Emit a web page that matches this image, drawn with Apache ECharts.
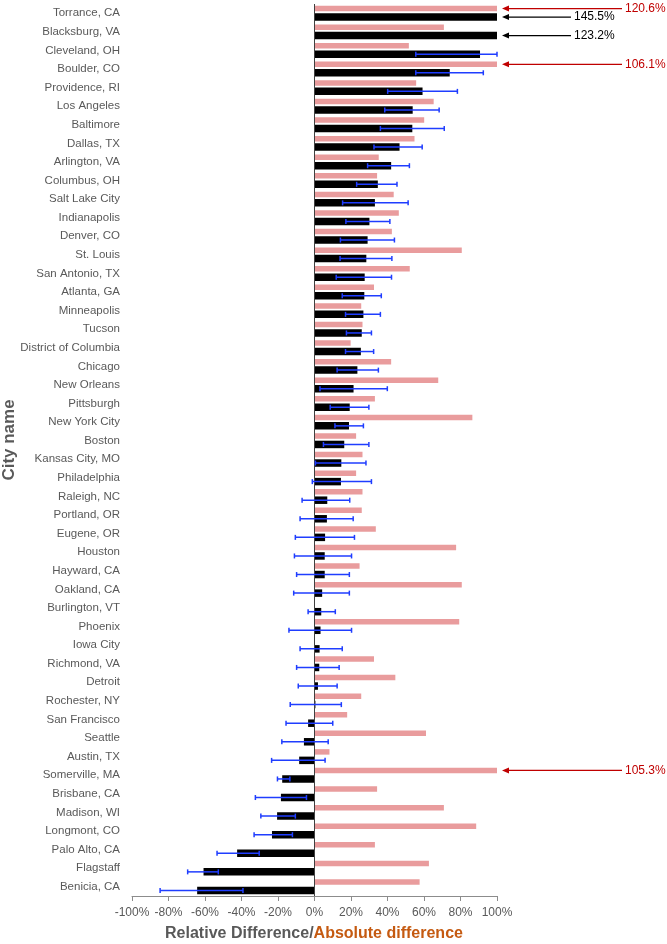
<!DOCTYPE html>
<html><head><meta charset="utf-8">
<script src="https://cdn.jsdelivr.net/npm/echarts@6.0.0/dist/echarts.min.js"></script>
<style>html,body{margin:0;padding:0;background:#fff}#c{width:667px;height:944px}</style>
</head><body><div id="c"></div>
<script>
const cities = ["Torrance, CA","Blacksburg, VA","Cleveland, OH","Boulder, CO","Providence, RI","Los Angeles","Baltimore","Dallas, TX","Arlington, VA","Columbus, OH","Salt Lake City","Indianapolis","Denver, CO","St. Louis","San Antonio, TX","Atlanta, GA","Minneapolis","Tucson","District of Columbia","Chicago","New Orleans","Pittsburgh","New York City","Boston","Kansas City, MO","Philadelphia","Raleigh, NC","Portland, OR","Eugene, OR","Houston","Hayward, CA","Oakland, CA","Burlington, VT","Phoenix","Iowa City","Richmond, VA","Detroit","Rochester, NY","San Francisco","Seattle","Austin, TX","Somerville, MA","Brisbane, CA","Madison, WI","Longmont, CO","Palo Alto, CA","Flagstaff","Benicia, CA"];
const absoluteDiff = [120.6,70.9,51.7,106.1,55.7,65.3,60.1,54.8,35.2,34.3,43.4,46.2,42.4,80.7,52.2,32.6,25.6,26.3,19.8,42.0,67.8,33.1,86.5,22.8,26.3,22.8,26.3,25.9,33.6,77.6,24.7,80.7,0,79.3,0,32.6,44.3,25.6,17.9,61.1,8.2,105.3,34.3,70.9,88.6,33.1,62.7,57.6];
const relativeDiff = [145.5,123.2,90.7,74.1,59.2,53.8,53.6,46.6,42.0,34.7,33.1,30.1,29.1,28.4,27.5,27.3,26.8,25.9,25.4,23.5,21.4,19.3,18.9,16.3,14.7,14.5,7.0,6.8,5.8,5.6,5.6,4.2,3.7,3.3,2.8,2.6,1.9,0.5,-3.5,-5.8,-8.4,-17.7,-18.4,-20.5,-23.3,-42.4,-60.8,-64.3];
const errLow = [null,null,55.5,55.5,40.1,38.5,36.1,32.6,29.1,23.1,15.4,17.2,14.2,14.0,11.9,15.2,17.0,17.5,17.0,12.4,3.0,8.6,11.2,4.9,0.5,-1.2,-6.8,-7.9,-10.5,-11.0,-9.8,-11.4,-3.5,-14.0,-7.9,-9.8,-8.9,-13.3,-15.6,-17.9,-23.5,-20.3,-32.4,-29.4,-33.1,-53.4,-69.5,-84.6];
const errHigh = [null,null,100,92.5,78.3,68.3,71.1,59.0,52.0,45.2,51.3,41.3,43.8,42.4,42.2,36.6,36.1,31.2,32.4,35.0,39.9,29.8,26.8,29.8,28.2,31.2,19.3,21.2,21.9,20.3,19.1,19.1,11.4,20.3,15.2,13.5,12.4,14.7,10.0,7.5,5.8,-13.5,-4.4,-10.5,-12.1,-30.3,-52.7,-39.2];
const xMin = -100, xMax = 100, xStep = 20;

const FONT = '"Liberation Sans", Arial, sans-serif';
const PINK_W = 5.5, BLACK_W = 7.5, GAP_PCT = 0.36;
const totalW = PINK_W * (1 + GAP_PCT) + BLACK_W;
const pinkOff = -totalW / 2 + PINK_W / 2;
const blackOff = -totalW / 2 + PINK_W * (1 + GAP_PCT) + BLACK_W / 2;

const errData = [];
cities.forEach((c, i) => { if (errLow[i] != null && errHigh[i] != null) errData.push([i, errLow[i], errHigh[i]]); });
const annData = [];
cities.forEach((c, i) => { if (absoluteDiff[i] > xMax || relativeDiff[i] > xMax) annData.push([i, absoluteDiff[i], relativeDiff[i]]); });

function arrow(x0, y, len, color, text) {
  return [
    { type: 'line', shape: { x1: x0 + 10, y1: y, x2: x0 + len, y2: y }, style: { stroke: color, lineWidth: 1.2 } },
    { type: 'polygon', shape: { points: [[x0 + 5, y], [x0 + 12, y - 3], [x0 + 12, y + 3]] }, style: { fill: color } },
    { type: 'text', x: x0 + len + 3, y: y, style: { text: text, fill: color, font: '12px ' + FONT, align: 'left', verticalAlign: 'middle' } }
  ];
}

const chart = echarts.init(document.getElementById('c'), null, { renderer: 'canvas' });
chart.setOption({
  animation: false,
  backgroundColor: '#fff',
  grid: { left: 132, right: 170, top: 4, bottom: 48, containLabel: false, outerBoundsMode: 'none' },
  xAxis: {
    type: 'value', min: xMin, max: xMax, interval: xStep,
    axisLine: { show: true, onZero: false, lineStyle: { color: '#8c8c8c', width: 1 } },
    axisTick: { show: true, length: 5, lineStyle: { color: '#8c8c8c' } },
    axisLabel: { formatter: '{value}%', color: '#595959', fontSize: 12, fontFamily: FONT, margin: 11 },
    splitLine: { show: false }
  },
  yAxis: {
    type: 'category', data: cities, inverse: true,
    axisLine: { show: false }, axisTick: { show: false },
    axisLabel: { interval: 0, color: '#595959', fontSize: 11.5, fontFamily: FONT, margin: 12 }
  },
  series: [
    {
      name: 'Absolute difference', type: 'bar', data: absoluteDiff, barWidth: PINK_W, barGap: (GAP_PCT * 100) + '%',
      itemStyle: { color: '#e99c9d' }, clip: true,
      markLine: { silent: true, symbol: 'none', label: { show: false }, animation: false,
        lineStyle: { color: '#404040', width: 1, type: 'solid' }, data: [{ xAxis: 0 }] }
    },
    {
      name: 'Relative difference', type: 'bar', data: relativeDiff, barWidth: BLACK_W, barGap: (GAP_PCT * 100) + '%',
      itemStyle: { color: '#000000' }, clip: true
    },
    {
      type: 'custom', z: 5, data: errData, encode: { x: [1, 2], y: 0 },
      renderItem: function (params, api) {
        const i = api.value(0);
        const p1 = api.coord([api.value(1), i]);
        const p2 = api.coord([api.value(2), i]);
        const y = p1[1] + blackOff;
        const st = { stroke: '#1f3dff', lineWidth: 1.5 };
        return { type: 'group', children: [
          { type: 'line', shape: { x1: p1[0], y1: y, x2: p2[0], y2: y }, style: st },
          { type: 'line', shape: { x1: p1[0], y1: y - 2.5, x2: p1[0], y2: y + 2.5 }, style: st },
          { type: 'line', shape: { x1: p2[0], y1: y - 2.5, x2: p2[0], y2: y + 2.5 }, style: st }
        ] };
      }
    },
    {
      type: 'custom', z: 6, data: annData, encode: { x: 1, y: 0 }, clip: false,
      renderItem: function (params, api) {
        const i = api.value(0);
        const a = api.value(1), r = api.value(2);
        const p = api.coord([xMax, i]);
        let children = [];
        if (a > xMax) children = children.concat(arrow(p[0], p[1] + pinkOff, 125, '#c00000', a.toFixed(1) + '%'));
        if (r > xMax) children = children.concat(arrow(p[0], p[1] + blackOff, 74, '#000000', r.toFixed(1) + '%'));
        return { type: 'group', children: children };
      }
    }
  ],
  graphic: [
    { type: 'text', x: 9, y: 440, rotation: Math.PI / 2,
      style: { text: 'City name', font: 'bold 17px ' + FONT, fill: '#595959', align: 'center', verticalAlign: 'middle' } },
    { type: 'text', x: 314, y: 934,
      style: { text: '{a|Relative Difference/}{b|Absolute difference}', align: 'center', verticalAlign: 'middle',
        rich: {
          a: { fill: '#595959', fontSize: 16, fontWeight: 'bold', fontFamily: FONT },
          b: { fill: '#c55a11', fontSize: 16, fontWeight: 'bold', fontFamily: FONT }
        } } }
  ]
});
</script>
</body></html>
